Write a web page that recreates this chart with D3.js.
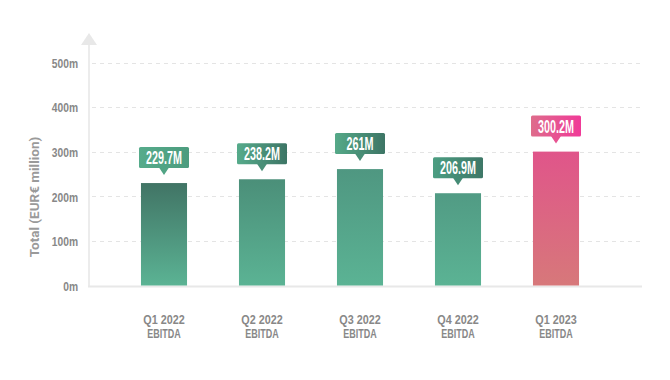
<!DOCTYPE html>
<html>
<head>
<meta charset="utf-8">
<script src="https://cdn.jsdelivr.net/npm/d3@7"></script>
<style>
  html, body { margin: 0; padding: 0; background: #ffffff; }
  svg { display: block; }
</style>
</head>
<body>
<svg id="chart" width="670" height="380"></svg>
<script>
// ---- data ----
const categories = ["Q1 2022", "Q2 2022", "Q3 2022", "Q4 2022", "Q1 2023"];
const subLabels = ["EBITDA", "EBITDA", "EBITDA", "EBITDA", "EBITDA"];
const values = [229.7, 238.2, 261, 206.9, 300.2];
const valueLabels = ["229.7M", "238.2M", "261M", "206.9M", "300.2M"];
const yTicks = [0, 100, 200, 300, 400, 500];
const yTickLabels = ["0m", "100m", "200m", "300m", "400m", "500m"];
const yTitle = "Total (EUR\u20AC million)";

// ---- styles ----
const barTop = ["#417465", "#4b8f79", "#4f9781", "#519b84", "#e0558a"];
const barBottom = ["#5bb394", "#5bb394", "#5bb394", "#5bb394", "#d7787a"];
const tagLeft = ["#56ab8b", "#56ab8b", "#55a988", "#4c9e82", "#de6c8b"];
const tagRight = ["#4c9c7e", "#3d7565", "#3d7565", "#3e7767", "#f03a98"];

const svg = d3.select("#chart");
const defs = svg.append("defs");

const y = d3.scaleLinear().domain([0, 500]).range([285.5, 62.5]);
const x = d3.scaleBand().domain(categories).range([115, 605]).paddingInner(0.53).paddingOuter(0.265);

const font = "'Liberation Sans', Arial, sans-serif";
function compress(sel, f) {
  sel.each(function () {
    const w = this.getComputedTextLength();
    d3.select(this).attr("textLength", w * f).attr("lengthAdjust", "spacingAndGlyphs");
  });
}

// gradients
values.forEach((v, i) => {
  const g = defs.append("linearGradient").attr("id", "bar" + i)
    .attr("x1", 0).attr("y1", 0).attr("x2", 0).attr("y2", 1);
  g.append("stop").attr("offset", 0).attr("stop-color", barTop[i]);
  g.append("stop").attr("offset", 1).attr("stop-color", barBottom[i]);
  const t = defs.append("linearGradient").attr("id", "tag" + i)
    .attr("x1", 0).attr("y1", 0).attr("x2", 1).attr("y2", 0);
  t.append("stop").attr("offset", 0).attr("stop-color", tagLeft[i]);
  t.append("stop").attr("offset", 1).attr("stop-color", tagRight[i]);
});

// gridlines
svg.append("g").selectAll("line").data(yTicks.filter(d => d > 0)).join("line")
  .attr("x1", 92).attr("x2", 642)
  .attr("y1", d => Math.round(y(d)) + 0.5).attr("y2", d => Math.round(y(d)) + 0.5)
  .attr("stroke", "#e4e4e4").attr("stroke-width", 1).attr("stroke-dasharray", "4,4");

// y axis (tick labels only)
const yAxis = d3.axisLeft(y).tickValues(yTicks).tickSize(0).tickPadding(0)
  .tickFormat((d, i) => yTickLabels[i]);
const ya = svg.append("g").attr("transform", "translate(78,0)").call(yAxis);
ya.select(".domain").remove();
ya.selectAll("text")
  .attr("font-family", font).attr("font-weight", "bold").attr("font-size", 13.5)
  .attr("fill", "#888888").attr("dy", "0.35em")
  .call(compress, 0.76);

// axis line + arrow
svg.append("line").attr("x1", 89).attr("x2", 89).attr("y1", 44).attr("y2", 286)
  .attr("stroke", "#ececec").attr("stroke-width", 2);
svg.append("path").attr("d", "M89,33 L97,45 L81,45 Z").attr("fill", "#e8e8e8");

// baseline
svg.append("line").attr("x1", 88).attr("x2", 642).attr("y1", 286.5).attr("y2", 286.5)
  .attr("stroke", "#e8e8e8").attr("stroke-width", 2);

// bars
svg.append("g").selectAll("rect").data(values).join("rect")
  .attr("x", (d, i) => x(categories[i]))
  .attr("width", x.bandwidth())
  .attr("y", d => y(d))
  .attr("height", d => y(0) - y(d))
  .attr("fill", (d, i) => `url(#bar${i})`);

// callouts
const tags = svg.append("g").selectAll("g").data(values).join("g")
  .attr("transform", (d, i) => `translate(${x(categories[i]) + x.bandwidth() / 2},${y(d) - 15})`);
tags.append("rect").attr("x", -25).attr("y", -21).attr("width", 50).attr("height", 21)
  .attr("rx", 1.5).attr("fill", (d, i) => `url(#tag${i})`);
tags.append("path").attr("d", "M-5,-0.5 L5,-0.5 L0,7 Z")
  .attr("fill", (d, i) => d3.interpolateRgb(tagLeft[i], tagRight[i])(0.5));
tags.append("text")
  .attr("text-anchor", "middle").attr("y", -4)
  .attr("font-family", font).attr("font-weight", "bold").attr("font-size", 18)
  .attr("fill", "#ffffff")
  .text((d, i) => valueLabels[i])
  .call(compress, 0.6);

// x category labels
const cx = d => x(d) + x.bandwidth() / 2;
const xg = svg.append("g");
xg.selectAll("text.l1").data(categories).join("text").attr("class", "l1")
  .attr("text-anchor", "middle").attr("x", cx).attr("y", 324)
  .attr("font-family", font).attr("font-weight", "bold").attr("font-size", 13)
  .attr("fill", "#888888").text(d => d)
  .call(compress, 0.83);
xg.selectAll("text.l2").data(categories).join("text").attr("class", "l2")
  .attr("text-anchor", "middle").attr("x", cx).attr("y", 338)
  .attr("font-family", font).attr("font-weight", "bold").attr("font-size", 13)
  .attr("fill", "#888888").text((d, i) => subLabels[i])
  .call(compress, 0.69);

// y title
svg.append("text")
  .attr("transform", "translate(39,197) rotate(-90)")
  .attr("text-anchor", "middle")
  .attr("font-family", "Roboto, 'Open Sans', sans-serif").attr("font-weight", "bold").attr("font-size", 13.5)
  .attr("fill", "#9a9a9a")
  .text(yTitle);
</script>
</body>
</html>
